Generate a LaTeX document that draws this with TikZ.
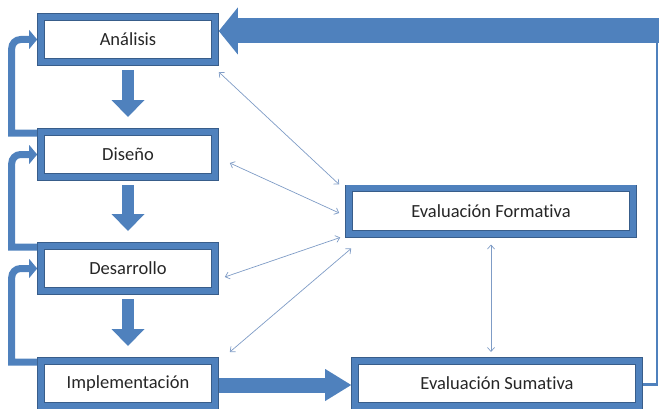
\documentclass[tikz,border=0pt]{standalone}
\usepackage{fontspec}
\setmainfont{Carlito}[Ligatures=NoCommon]
\usetikzlibrary{arrows.meta}
\definecolor{boxblue}{HTML}{4F81BD}
\definecolor{edgeblue}{HTML}{385D8A}
\definecolor{linkblue}{HTML}{7F9CC6}
\definecolor{textgray}{HTML}{262626}
\tikzset{
  stage/.style={draw=edgeblue, double=boxblue, double distance=6pt, line width=0.8pt, fill=white,
    minimum width=174pt, minimum height=45.4pt, outer sep=3.8pt, inner sep=0pt,
    text=textgray, font=\fontsize{18.5}{22}\selectfont},
  evalbox/.style={stage, minimum width=284pt},
  downarrow/.style={draw=boxblue, line width=12pt, -{Triangle[width=33pt,length=17pt,line width=0pt]}},
  looparrow/.style={draw=boxblue, line width=7pt, -{Triangle[width=19pt,length=8pt,line width=0pt]}},
  backarrow/.style={draw=boxblue, line width=25pt, -{Triangle[width=47pt,length=19pt,line width=0pt]}},
  implarrow/.style={draw=boxblue, line width=15pt, -{Triangle[width=32pt,length=26pt,line width=0pt]}},
  backline/.style={draw=boxblue, line width=2.5pt},
  link/.style={draw=linkblue, line width=0.7pt, {Straight Barb[length=4pt,width=7pt]}-{Straight Barb[length=4pt,width=7pt]}}
}

\begin{document}
\begin{tikzpicture}[x=1pt,y=1pt]
  \useasboundingbox (0,0) rectangle (659,408);
  \node[stage] (ana) at (128,368.5) {Análisis};
  \node[stage] (dis) at (128,253.5) {Diseño};
  \node[stage] (des) at (128,139.5) {Desarrollo};
  \node[stage] (imp) at (128,24.5) {Implementación};
  \node[evalbox] (form) at (491,197) {Evaluación Formativa};
  \node[evalbox] (sum) at (497,24.5) {Evaluación Sumativa};

  \foreach \a/\b in {ana/dis, dis/des, des/imp}
    \draw[downarrow] ([yshift=-4pt]\a.south) -- ([yshift=11pt]\b.north);
  \foreach \a/\b in {dis/ana, des/dis, imp/des}
    \draw[looparrow] ([yshift=-5pt]\a.north west) -- ++(-25.5,0) [rounded corners=9pt] |- (\b.west);
  \draw[implarrow] ([yshift=-1.5pt]imp.east) -- ([yshift=-1.5pt]sum.west);

  \coordinate (bend) at (657,365);
  \coordinate (edge) at (662,377);
  \draw[backline] ([yshift=-1pt]sum.east) -| (bend);
  \draw[backarrow] (edge) -- ([yshift=8.5pt]ana.east);

  \draw[link] ([yshift=-6pt]ana.south east) -- ([xshift=-6pt]form.north west);
  \draw[link] ([shift={(11pt,-8.5pt)}]dis.east) -- ([shift={(-6pt,-2pt)}]form.west);
  \draw[link] ([shift={(6pt,-8.5pt)}]des.east) -- ([xshift=-5pt]form.south west);
  \draw[link] ([shift={(11pt,5pt)}]imp.north east) -- ([shift={(6pt,-11pt)}]form.south west);
  \draw[link] ([yshift=-7pt]form.south) -- ([yshift=5pt]form.south |- sum.north);
\end{tikzpicture}
\end{document}
